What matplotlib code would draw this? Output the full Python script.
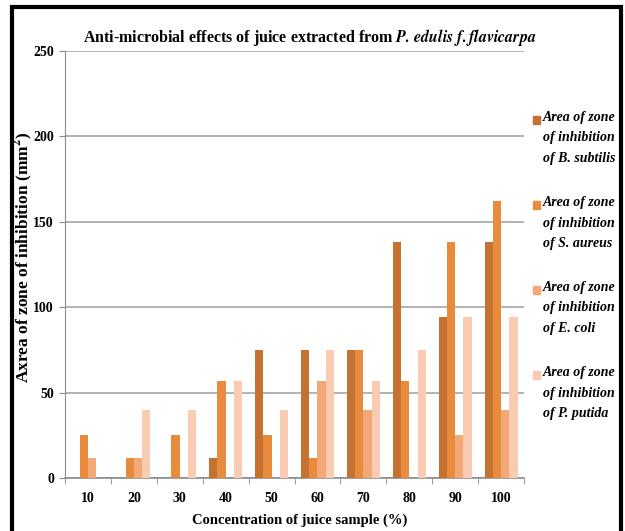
import matplotlib

matplotlib.use("Agg")
import matplotlib.pyplot as plt
import numpy as np
from matplotlib.patches import Rectangle

plt.rcParams["font.family"] = ["Liberation Serif", "DejaVu Serif"]
plt.rcParams["mathtext.fontset"] = "stix"

concentrations = ["10", "20", "30", "40", "50", "60", "70", "80", "90", "100"]
b_subtilis = [0, 0, 0, 12, 75, 75, 75, 138, 94, 138]
s_aureus = [25, 12, 25, 57, 25, 12, 75, 57, 138, 162]
e_coli = [12, 12, 0, 0, 0, 57, 40, 0, 25, 40]
p_putida = [0, 40, 40, 57, 40, 75, 57, 75, 94, 94]

series = [
    ("B. subtilis", b_subtilis, "#C47131"),
    ("S. aureus", s_aureus, "#E98B3D"),
    ("E. coli", e_coli, "#F4A878"),
    ("P. putida", p_putida, "#F9CBB2"),
]

W, H = 625, 531
fig = plt.figure(figsize=(W / 100, H / 100), dpi=100)
ax = fig.add_axes([65 / W, 1 - 478 / H, (524 - 65) / W, (478 - 51) / H])

x = np.arange(len(concentrations))
bw = 0.18
for i, (name, vals, col) in enumerate(series):
    ax.bar(x + (i - 1.5) * bw, vals, bw, color=col, zorder=3)

ax.set_xlim(-0.5, len(concentrations) - 0.5)
ax.set_ylim(0, 250)
ax.set_yticks(range(0, 251, 50))
ax.set_xticks(x)
ax.set_xticklabels(concentrations)
ax.set_xticks(np.arange(-0.5, len(concentrations)), minor=True)
ax.tick_params(axis="x", which="major", length=0, pad=10)
ax.tick_params(axis="x", which="minor", length=4, color="#8c8c8c")
ax.tick_params(axis="y", length=4, color="#8c8c8c", pad=4)
for lab in ax.get_xticklabels() + ax.get_yticklabels():
    lab.set_fontweight("bold")
    lab.set_fontsize(10)
ax.grid(axis="y", color="#a6a6a6", lw=1.2, zorder=0)
for s in ["top", "right"]:
    ax.spines[s].set_visible(False)
ax.spines["left"].set_color("#8c8c8c")
ax.spines["bottom"].set_color("#8c8c8c")
ax.spines["bottom"].set_linewidth(1.2)

fig.text(310 / W, 1 - 37 / H,
         "Anti-microbial effects of juice extracted from $\\mathbfit{P.\\,edulis\\ f{.}flavicarpa}$",
         ha="center", va="center", fontsize=11.5, fontweight="bold")
fig.text(300 / W, 1 - 520 / H, "Concentration of juice sample (%)",
         ha="center", va="center", fontsize=10.5, fontweight="bold")
fig.text(23 / W, 1 - 257 / H, "Axrea of zone of inhibition (mm$^\\mathbf{2}$)",
         ha="center", va="center", rotation=90, fontsize=12.5, fontweight="bold")

# legend, Excel style: marker beside first line
for i, (name, vals, col) in enumerate(series):
    ytop = 120 + i * 85
    fig.patches.append(Rectangle((533 / W, 1 - (ytop + 4) / H), 7 / W, 8 / H,
                                 color=col, transform=fig.transFigure))
    fig.text(543 / W, 1 - (ytop - 9) / H,
             f"Area of zone\nof inhibition\nof {name}",
             ha="left", va="top", fontsize=10, fontweight="bold",
             fontstyle="italic", linespacing=1.75)

# black frame
fig.patches.append(Rectangle((11.5 / W, -0.02), (621 - 11.5) / W, 1.02 - 6.5 / H,
                             fill=False, ec="black", lw=3, transform=fig.transFigure))

fig.savefig("out.png", dpi=100)
